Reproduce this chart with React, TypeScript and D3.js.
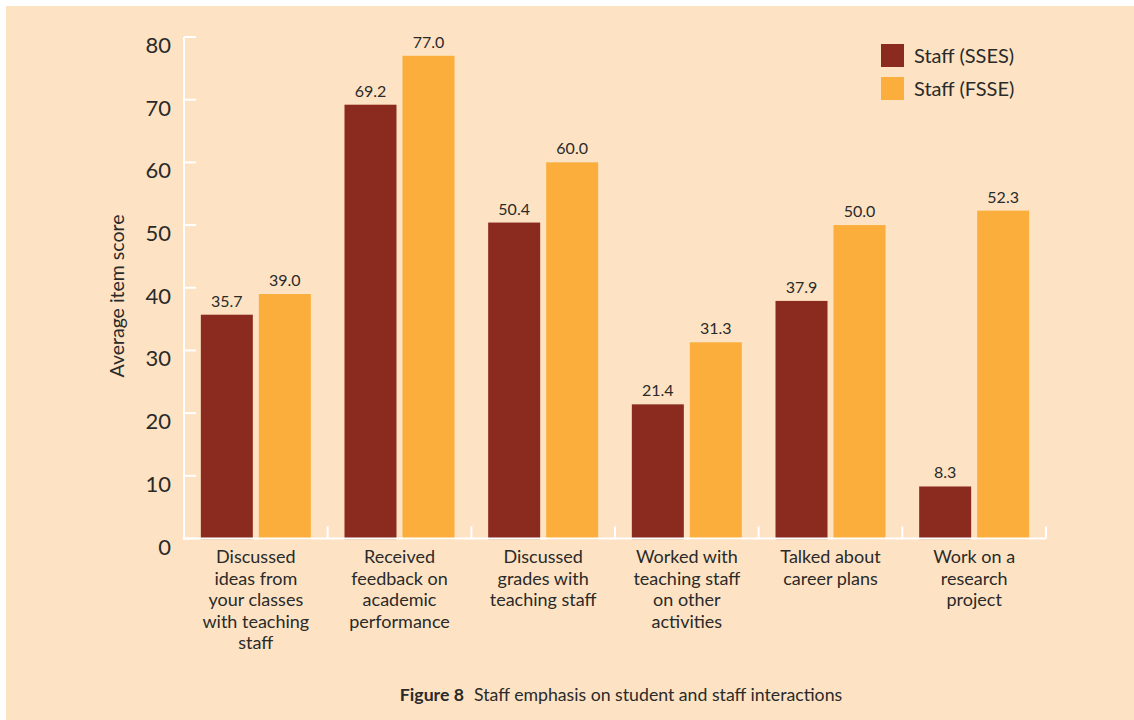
import React from "react";
import * as d3 from "d3";

const categories: string[][] = [
  ["Discussed", "ideas from", "your classes", "with teaching", "staff"],
  ["Received", "feedback on", "academic", "performance"],
  ["Discussed", "grades with", "teaching staff"],
  ["Worked with", "teaching staff", "on other", "activities"],
  ["Talked about", "career plans"],
  ["Work on a", "research", "project"],
];
const seriesNames = ["Staff (SSES)", "Staff (FSSE)"];
const ssesValues = [35.7, 69.2, 50.4, 21.4, 37.9, 8.3];
const fsseValues = [39.0, 77.0, 60.0, 31.3, 50.0, 52.3];
const yTicks = [0, 10, 20, 30, 40, 50, 60, 70, 80];
const colors = ["#8B2A1E", "#FBAE3C"];

const W = 1134;
const H = 720;
const FONT = "Lato, 'Open Sans', sans-serif";
const TEXT = "#2a2a2a";

export default function App() {
  const x0 = 184;
  const x1 = 1046;
  const yScale = d3.scaleLinear().domain([0, 80]).range([538.5, 37]);
  const band = d3
    .scaleBand<number>()
    .domain(d3.range(categories.length))
    .range([x0, x1])
    .paddingInner(0)
    .paddingOuter(0);
  const bw = band.bandwidth();
  const barW = 52;
  const gap = 6;
  const padL = (bw - 2 * barW - gap) / 2;
  const series = [ssesValues, fsseValues];

  return (
    <div style={{ position: "fixed", left: 0, top: 0 }}>
      <svg width={W} height={H} style={{ display: "block" }}>
        <rect x={0} y={0} width={W} height={H} fill="#ffffff" />
        <rect x={6} y={6} width={W - 6} height={H - 6} fill="#FDE3C3" />

        {/* bars */}
        {categories.map((_, i) =>
          series.map((vals, s) => {
            const bx = (band(i) as number) + padL + s * (barW + gap);
            const by = yScale(vals[i]);
            return (
              <g key={`${i}-${s}`}>
                <rect
                  x={bx}
                  y={by}
                  width={barW}
                  height={yScale(0) - by + 0.8}
                  fill={colors[s]}
                />
                <text
                  x={bx + barW / 2}
                  y={by - 8}
                  textAnchor="middle"
                  fontFamily={FONT}
                  fontSize={16}
                  fill={TEXT}
                >
                  {vals[i].toFixed(1)}
                </text>
              </g>
            );
          })
        )}

        {/* y axis */}
        <line x1={x0} x2={x0} y1={yScale(80)} y2={yScale(0) + 1.5} stroke="#fff" strokeWidth={2} />
        {yTicks.map((t) => (
          <g key={t}>
            <line x1={x0} x2={x0 + 12} y1={yScale(t)} y2={yScale(t)} stroke="#fff" strokeWidth={2} />
            <text
              x={171}
              y={yScale(t) + 16}
              textAnchor="end"
              fontFamily={FONT}
              fontSize={22}
              fill={TEXT}
            >
              {t}
            </text>
          </g>
        ))}

        {/* x axis */}
        <line x1={x0} x2={x1} y1={yScale(0)} y2={yScale(0)} stroke="#fff" strokeWidth={2} />
        {d3.range(categories.length + 1).map((i) => {
          const xx = x0 + i * bw;
          return (
            <line key={i} x1={xx} x2={xx} y1={yScale(0)} y2={yScale(0) - 12} stroke="#fff" strokeWidth={2} />
          );
        })}

        {/* category labels */}
        {categories.map((lines, i) => (
          <text
            key={i}
            x={(band(i) as number) + bw / 2}
            y={563}
            textAnchor="middle"
            fontFamily={FONT}
            fontSize={18}
            fill={TEXT}
          >
            {lines.map((l, k) => (
              <tspan key={k} x={(band(i) as number) + bw / 2} dy={k === 0 ? 0 : 21.5}>
                {l}
              </tspan>
            ))}
          </text>
        ))}

        {/* y axis title */}
        <text
          transform="translate(124,296) rotate(-90)"
          textAnchor="middle"
          fontFamily={FONT}
          fontSize={19.5}
          fill={TEXT}
        >
          Average item score
        </text>

        {/* legend */}
        {seriesNames.map((n, s) => (
          <g key={n} transform={`translate(881,${44 + s * 33})`}>
            <rect x={0} y={0} width={23} height={23} fill={colors[s]} />
            <text x={33} y={19} fontFamily={FONT} fontSize={20} fill={TEXT}>
              {n}
            </text>
          </g>
        ))}

        {/* caption */}
        <text
          x={621}
          y={701}
          textAnchor="middle"
          fontFamily={FONT}
          fontSize={17.7}
          fill={TEXT}
        >
          <tspan fontWeight="bold">Figure 8</tspan>
          <tspan dx={10}>Staff emphasis on student and staff interactions</tspan>
        </text>
      </svg>
    </div>
  );
}
